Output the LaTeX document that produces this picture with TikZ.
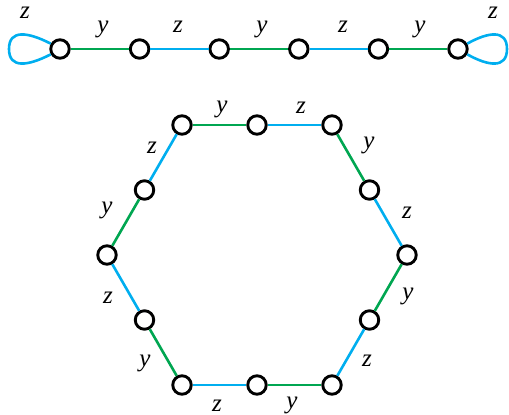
\documentclass[tikz,border=0pt]{standalone}
\usepackage{fontspec}
\setmainfont{Liberation Serif}
\newfontfamily\lblfont{Liberation Serif}
\definecolor{gy}{RGB}{0,166,81}
\definecolor{bz}{RGB}{0,174,239}
\tikzset{
  vtx/.style={circle, draw=black, fill=white, line width=2.9pt, minimum size=18.5pt, inner sep=0pt},
  yedge/.style={draw=gy, line width=2.6pt},
  zedge/.style={draw=bz, line width=2.6pt},
  lbl/.style={anchor=base, inner sep=0pt, font=\lblfont\itshape\fontsize{25}{28}\selectfont},
}
\begin{document}
\begin{tikzpicture}[x=1pt,y=-1pt]
\useasboundingbox (0,0) rectangle (509,415);
% top chain
\foreach \i in {1,...,6} {
  \node[vtx] (n\i) at ({60+79.6*(\i-1)},49) {};
}
\draw[yedge] (n1) -- (n2);
\draw[zedge] (n2) -- (n3);
\draw[yedge] (n3) -- (n4);
\draw[zedge] (n4) -- (n5);
\draw[yedge] (n5) -- (n6);
\draw[zedge] (n1.150) .. controls (28,32) and (9,29) .. (9,49) .. controls (9,69) and (28,66) .. (n1.210);
\draw[zedge] (n6.30) .. controls (488,32) and (507,29) .. (507,49) .. controls (507,69) and (488,66) .. (n6.-30);
\node[lbl] (t0) at (25,18) {z};
\node[lbl] (t1) at (103,32) {y};
\node[lbl] (t2) at (178,32) {z};
\node[lbl] (t3) at (262,32) {y};
\node[lbl] (t4) at (343,32) {z};
\node[lbl] (t5) at (420,32) {y};
\node[lbl] (t6) at (493,18) {z};
% hexagon
\node[vtx] (h1) at (182,125) {};
\node[vtx] (h2) at (257,125) {};
\node[vtx] (h3) at (332,125) {};
\node[vtx] (h4) at (369.5,190) {};
\node[vtx] (h5) at (407,255) {};
\node[vtx] (h6) at (369.5,320) {};
\node[vtx] (h7) at (332,385) {};
\node[vtx] (h8) at (257,385) {};
\node[vtx] (h9) at (182,385) {};
\node[vtx] (h10) at (144.5,320) {};
\node[vtx] (h11) at (107,255) {};
\node[vtx] (h12) at (144.5,190) {};
\draw[yedge] (h1) -- (h2);
\draw[zedge] (h2) -- (h3);
\draw[yedge] (h3) -- (h4);
\draw[zedge] (h4) -- (h5);
\draw[yedge] (h5) -- (h6);
\draw[zedge] (h6) -- (h7);
\draw[yedge] (h7) -- (h8);
\draw[zedge] (h8) -- (h9);
\draw[yedge] (h9) -- (h10);
\draw[zedge] (h10) -- (h11);
\draw[yedge] (h11) -- (h12);
\draw[zedge] (h12) -- (h1);
\node[lbl] (l1) at (222,112) {y};
\node[lbl] (l2) at (301,113) {z};
\node[lbl] (l3) at (369,148) {y};
\node[lbl] (l4) at (407,218) {z};
\node[lbl] (l5) at (408,299) {y};
\node[lbl] (l6) at (367,366) {z};
\node[lbl] (l7) at (292,408) {y};
\node[lbl] (l8) at (217,411) {z};
\node[lbl] (l9) at (145,366) {y};
\node[lbl] (l10) at (108,303) {z};
\node[lbl] (l11) at (107,213) {y};
\node[lbl] (l12) at (152,153) {z};
\end{tikzpicture}
\end{document}
